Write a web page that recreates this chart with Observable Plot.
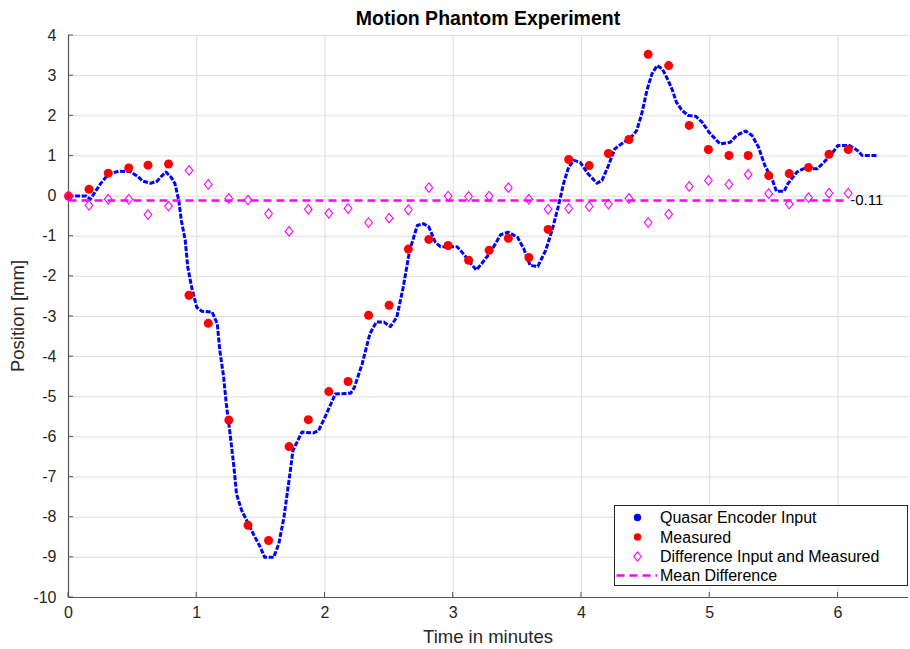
<!DOCTYPE html>
<html>
<head>
<meta charset="utf-8">
<script src="https://cdn.jsdelivr.net/npm/d3@7"></script>
<script src="https://cdn.jsdelivr.net/npm/@observablehq/plot@0.6"></script>
<style>
  html, body { margin: 0; padding: 0; background: #fff; }
  #chart { width: 910px; height: 649px; }
</style>
</head>
<body>
<div id="chart"></div>
<script>
// ---------- data ----------
const chartTitle = "Motion Phantom Experiment";
const xLabel = "Time in minutes";
const yLabel = "Position [mm]";
const xTicks = [0, 1, 2, 3, 4, 5, 6];
const yTicks = [-10, -9, -8, -7, -6, -5, -4, -3, -2, -1, 0, 1, 2, 3, 4];
const seriesNames = ["Quasar Encoder Input", "Measured", "Difference Input and Measured", "Mean Difference"];

// Quasar encoder input (min, mm)
const encoderTime = [
  0, 0.14, 0.17, 0.25, 0.31, 0.39, 0.48, 0.54, 0.58, 0.64,
  0.69, 0.73, 0.76, 0.80, 0.83, 0.86, 0.88, 0.91, 0.93, 0.96,
  1.00, 1.04, 1.12, 1.16, 1.18, 1.21, 1.23, 1.26, 1.29, 1.31,
  1.35, 1.39, 1.44, 1.49, 1.53, 1.60, 1.64, 1.68, 1.73, 1.75,
  1.82, 1.91, 1.95, 2.00, 2.08, 2.20, 2.23, 2.29, 2.35, 2.40,
  2.46, 2.51, 2.56, 2.61, 2.66, 2.72, 2.77, 2.81, 2.86, 2.90,
  3.03, 3.08, 3.14, 3.18, 3.22, 3.29, 3.37, 3.43, 3.50, 3.55,
  3.60, 3.66, 3.72, 3.77, 3.82, 3.86, 3.90, 3.94, 3.99, 4.05,
  4.12, 4.16, 4.21, 4.26, 4.33, 4.39, 4.43, 4.47, 4.51, 4.55,
  4.59, 4.63, 4.67, 4.71, 4.74, 4.78, 4.83, 4.89, 4.94, 5.00,
  5.08, 5.16, 5.21, 5.28, 5.33, 5.38, 5.43, 5.49, 5.52, 5.58,
  5.61, 5.68, 5.73, 5.84, 5.89, 5.95, 6.00, 6.09, 6.15, 6.19,
  6.30
];
const encoderPos = [
  0, 0, -0.08, 0.31, 0.54, 0.62, 0.61, 0.49, 0.37, 0.32,
  0.37, 0.51, 0.60, 0.47, 0.31, -0.11, -0.61, -1.10, -1.77, -2.27,
  -2.77, -2.87, -2.89, -3.18, -3.85, -4.51, -5.17, -5.92, -6.75, -7.42,
  -7.83, -8.08, -8.41, -8.71, -9.00, -9.00, -8.66, -8.00, -6.84, -6.34,
  -5.88, -5.90, -5.84, -5.51, -4.93, -4.91, -4.76, -4.18, -3.43, -3.14,
  -3.14, -3.25, -3.02, -2.27, -1.36, -0.73, -0.69, -0.77, -1.15, -1.26,
  -1.26, -1.44, -1.69, -1.84, -1.69, -1.40, -0.96, -0.90, -1.02, -1.31,
  -1.73, -1.75, -1.36, -0.86, -0.25, 0.31, 0.72, 0.89, 0.84, 0.56,
  0.32, 0.39, 0.76, 1.18, 1.34, 1.47, 1.63, 2.05, 2.63, 3.05,
  3.25, 3.17, 2.92, 2.63, 2.34, 2.15, 2.01, 1.99, 1.84, 1.57,
  1.30, 1.34, 1.51, 1.62, 1.51, 1.22, 0.76, 0.39, 0.12, 0.12,
  0.31, 0.60, 0.68, 0.68, 0.84, 1.05, 1.26, 1.26, 1.14, 1.01,
  1.01
];

// Measured samples (min, mm)
const measuredTime = [
  0, 0.16, 0.31, 0.47, 0.62, 0.78, 0.94, 1.09, 1.25, 1.40,
  1.56, 1.72, 1.87, 2.03, 2.18, 2.34, 2.50, 2.65, 2.81, 2.96,
  3.12, 3.28, 3.43, 3.59, 3.74, 3.90, 4.06, 4.21, 4.37, 4.52,
  4.68, 4.84, 4.99, 5.15, 5.30, 5.46, 5.62, 5.77, 5.93, 6.08
];
const measuredPos = [
  0, 0.17, 0.57, 0.70, 0.77, 0.80, -2.47, -3.17, -5.58, -8.20,
  -8.58, -6.24, -5.57, -4.87, -4.62, -2.97, -2.72, -1.32, -1.08, -1.23,
  -1.60, -1.35, -1.05, -1.53, -0.83, 0.91, 0.76, 1.06, 1.41, 3.53,
  3.25, 1.76, 1.16, 1.01, 1.01, 0.51, 0.56, 0.71, 1.04, 1.16
];
// Difference input and measured (mm), at the measured times
const differencePos = [
  0, -0.23, -0.08, -0.08, -0.46, -0.25, 0.64, 0.29, -0.06, -0.10,
  -0.44, -0.88, -0.33, -0.43, -0.31, -0.66, -0.55, -0.34, 0.21, 0.00,
  -0.01, 0.00, 0.21, -0.08, -0.33, -0.31, -0.26, -0.20, -0.06, -0.66,
  -0.45, 0.24, 0.39, 0.29, 0.54, 0.06, -0.20, -0.04, 0.07, 0.07
];
const meanDifference = -0.11;

// ---------- tables built from the arrays ----------
const encoder = encoderTime.map((t, i) => ({t, v: encoderPos[i]}));
const measured = measuredTime.map((t, i) => ({t, v: measuredPos[i]}));
const difference = measuredTime.map((t, i) => ({t, v: differencePos[i]}));
const meanLine = [measuredTime[0], measuredTime[measuredTime.length - 1]].map(t => ({t, v: meanDifference}));

const BLUE = "#0000ff", RED = "#ff0000", MAGENTA = "#ff00ff";
const FONT = "'Liberation Sans', Arial, Helvetica, sans-serif";

// tall MATLAB-style diamond
const tallDiamond = {
  draw(ctx, size) {
    const r = Math.sqrt(size / Math.PI);
    const hh = r, hw = r * 0.8;
    ctx.moveTo(0, -hh); ctx.lineTo(hw, 0); ctx.lineTo(0, hh); ctx.lineTo(-hw, 0); ctx.closePath();
  }
};

const plot = Plot.plot({
  width: 910,
  height: 649,
  marginLeft: 68,
  marginRight: 2,
  marginTop: 35,
  marginBottom: 52,
  style: {fontFamily: FONT, fontSize: "16px", color: "#262626", background: "#ffffff", overflow: "visible"},
  x: {domain: [0, 6.55], label: null},
  y: {domain: [-10, 4], label: null},
  marks: [
    Plot.gridX(xTicks, {stroke: "#dedede", strokeOpacity: 1, strokeWidth: 1}),
    Plot.gridY(yTicks, {stroke: "#dedede", strokeOpacity: 1, strokeWidth: 1}),
    Plot.axisX(xTicks, {tickSize: 0, tickPadding: 9, label: null, tickFormat: d => String(d), fontSize: 16}),
    Plot.axisY(yTicks, {tickSize: 0, tickPadding: 12, label: null, tickFormat: d => String(d), fontSize: 16}),
    Plot.ruleX([0], {stroke: "#555555", strokeWidth: 1.2}),
    Plot.ruleY([-10], {stroke: "#555555", strokeWidth: 1.2}),
    Plot.line(encoder, {x: "t", y: "v", stroke: BLUE, strokeWidth: 3, strokeDasharray: "5,1.6", strokeLinecap: "butt", strokeLinejoin: "round"}),
    Plot.dot(measured, {x: "t", y: "v", r: 4.5, fill: RED, stroke: "none"}),
    Plot.dot(difference, {x: "t", y: "v", symbol: tallDiamond, r: 4.8, fill: "none", stroke: MAGENTA, strokeWidth: 1.1}),
    Plot.line(meanLine, {x: "t", y: "v", stroke: MAGENTA, strokeWidth: 2.5, strokeDasharray: "8,5", strokeLinecap: "butt"}),
    Plot.text([meanDifference], {x: measuredTime[measuredTime.length - 1], y: d => d, text: d => d.toFixed(2), textAnchor: "start", dx: 2, fontSize: 15, fill: "#000000"})
  ]
});

const svg = d3.select(plot);
const xs = plot.scale("x"), ys = plot.scale("y");
const x0 = xs.apply(0), yBottom = ys.apply(-10), yTop = ys.apply(4), xRight = 908;

// inward ticks (MATLAB style)
const tg = svg.append("g").attr("stroke", "#555555").attr("stroke-width", 1);
xTicks.forEach(v => {
  const px = xs.apply(v);
  tg.append("line").attr("x1", px).attr("x2", px).attr("y1", yBottom).attr("y2", yBottom - 5);
});
yTicks.forEach(v => {
  const py = ys.apply(v);
  tg.append("line").attr("x1", x0).attr("x2", x0 + 5).attr("y1", py).attr("y2", py);
});

// title and axis labels
const cx = (x0 + xRight) / 2;
svg.append("text").text(chartTitle)
  .attr("x", cx).attr("y", 25).attr("text-anchor", "middle")
  .attr("font-family", FONT).attr("font-weight", "bold").attr("font-size", 19.5).attr("fill", "#000");
svg.append("text").text(xLabel)
  .attr("x", cx).attr("y", 643).attr("text-anchor", "middle")
  .attr("font-family", FONT).attr("font-size", 18.5).attr("fill", "#262626");
svg.append("text").text(yLabel)
  .attr("transform", `translate(24,${(yTop + yBottom) / 2}) rotate(-90)`)
  .attr("text-anchor", "middle")
  .attr("font-family", FONT).attr("font-size", 18.5).attr("fill", "#262626");

// legend (inside the axes, lower right)
const lg = svg.append("g").attr("font-family", FONT).attr("font-size", 16).attr("text-anchor", "start");
lg.append("rect").attr("x", 614.5).attr("y", 505.5).attr("width", 293).attr("height", 80)
  .attr("fill", "#fff").attr("stroke", "#262626").attr("stroke-width", 1);
const rows = [517.5, 537, 556.5, 575.5];
lg.append("circle").attr("cx", 637.5).attr("cy", rows[0]).attr("r", 3.7).attr("fill", BLUE);
lg.append("circle").attr("cx", 637.5).attr("cy", rows[1]).attr("r", 3.7).attr("fill", RED);
lg.append("path").attr("d", `M637.5,${rows[2] - 4.7}L641.3,${rows[2]}L637.5,${rows[2] + 4.7}L633.7,${rows[2]}Z`)
  .attr("fill", "none").attr("stroke", MAGENTA).attr("stroke-width", 1.1);
lg.append("line").attr("x1", 616.5).attr("x2", 657).attr("y1", rows[3]).attr("y2", rows[3])
  .attr("stroke", MAGENTA).attr("stroke-width", 2.5).attr("stroke-dasharray", "8,5");
seriesNames.forEach((name, i) => {
  lg.append("text").text(name).attr("x", 660).attr("y", rows[i]).attr("dy", "0.36em")
    .attr("text-anchor", "start").attr("fill", "#000");
});

document.getElementById("chart").appendChild(plot);
</script>
</body>
</html>
